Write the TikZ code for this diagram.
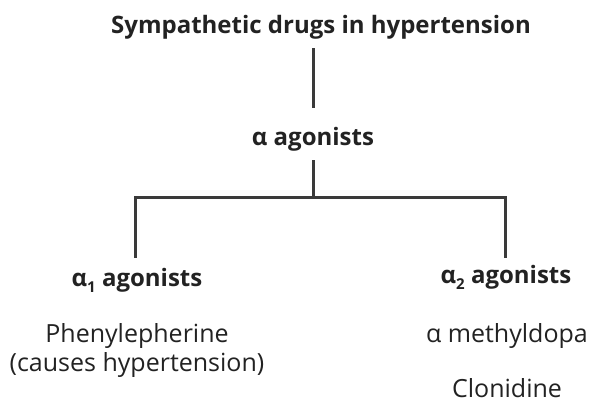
\documentclass[tikz,border=0pt]{standalone}
\usepackage{fontspec}
\setmainfont{Open Sans}
\definecolor{ink}{HTML}{222222}
\definecolor{stem}{HTML}{3A3A3A}
\newcommand{\lowsub}[1]{\raisebox{-6pt}{\fontsize{15}{15}\selectfont#1}}
\begin{document}
\begin{tikzpicture}[x=1pt,y=-1pt,
  head/.style={anchor=base,font=\fontsize{24}{27}\selectfont\bfseries,text=ink,inner sep=0pt},
  drug/.style={anchor=base,font=\fontsize{25}{28}\selectfont,text=ink,inner sep=0pt},
  branch/.style={draw=stem,line width=3pt}]
\useasboundingbox (0,0) rectangle (603,402);
\pgfmathsetmacro{\xl}{135}
\pgfmathsetmacro{\xr}{505}
\pgfmathsetmacro{\xm}{313}
\pgfmathsetmacro{\yh}{197}
\node[head] (title) at (321,33) {Sympathetic drugs in hypertension};
\node[head] (alpha) at (\xm,145) {α agonists};
\node[head] (alphaone) at (137,286) {α\lowsub{1} agonists};
\node[head] (alphatwo) at (506,283) {α\lowsub{2} agonists};
\node[drug] (phenyl) at (137,342) {Phenylepherine};
\node[drug] (cause) at (137,371) {(causes hypertension)};
\node[drug] (methyl) at (507,342) {α methyldopa};
\node[drug] (clon) at (507,397) {Clonidine};
\coordinate (top) at (\xm,48);
\coordinate (mid) at (\xm,108);
\coordinate (split) at (\xm,160);
\coordinate (join) at (\xm,\yh);
\coordinate (left) at (\xl,\yh);
\coordinate (right) at (\xr,\yh);
\coordinate (leftend) at (\xl,256);
\coordinate (rightend) at (\xr,256);
\draw[branch] (top)--(mid);
\draw[branch] (split)--(join);
\draw[branch,line cap=rect] (leftend)--(left)--(right)--(rightend);
\end{tikzpicture}
\end{document}
